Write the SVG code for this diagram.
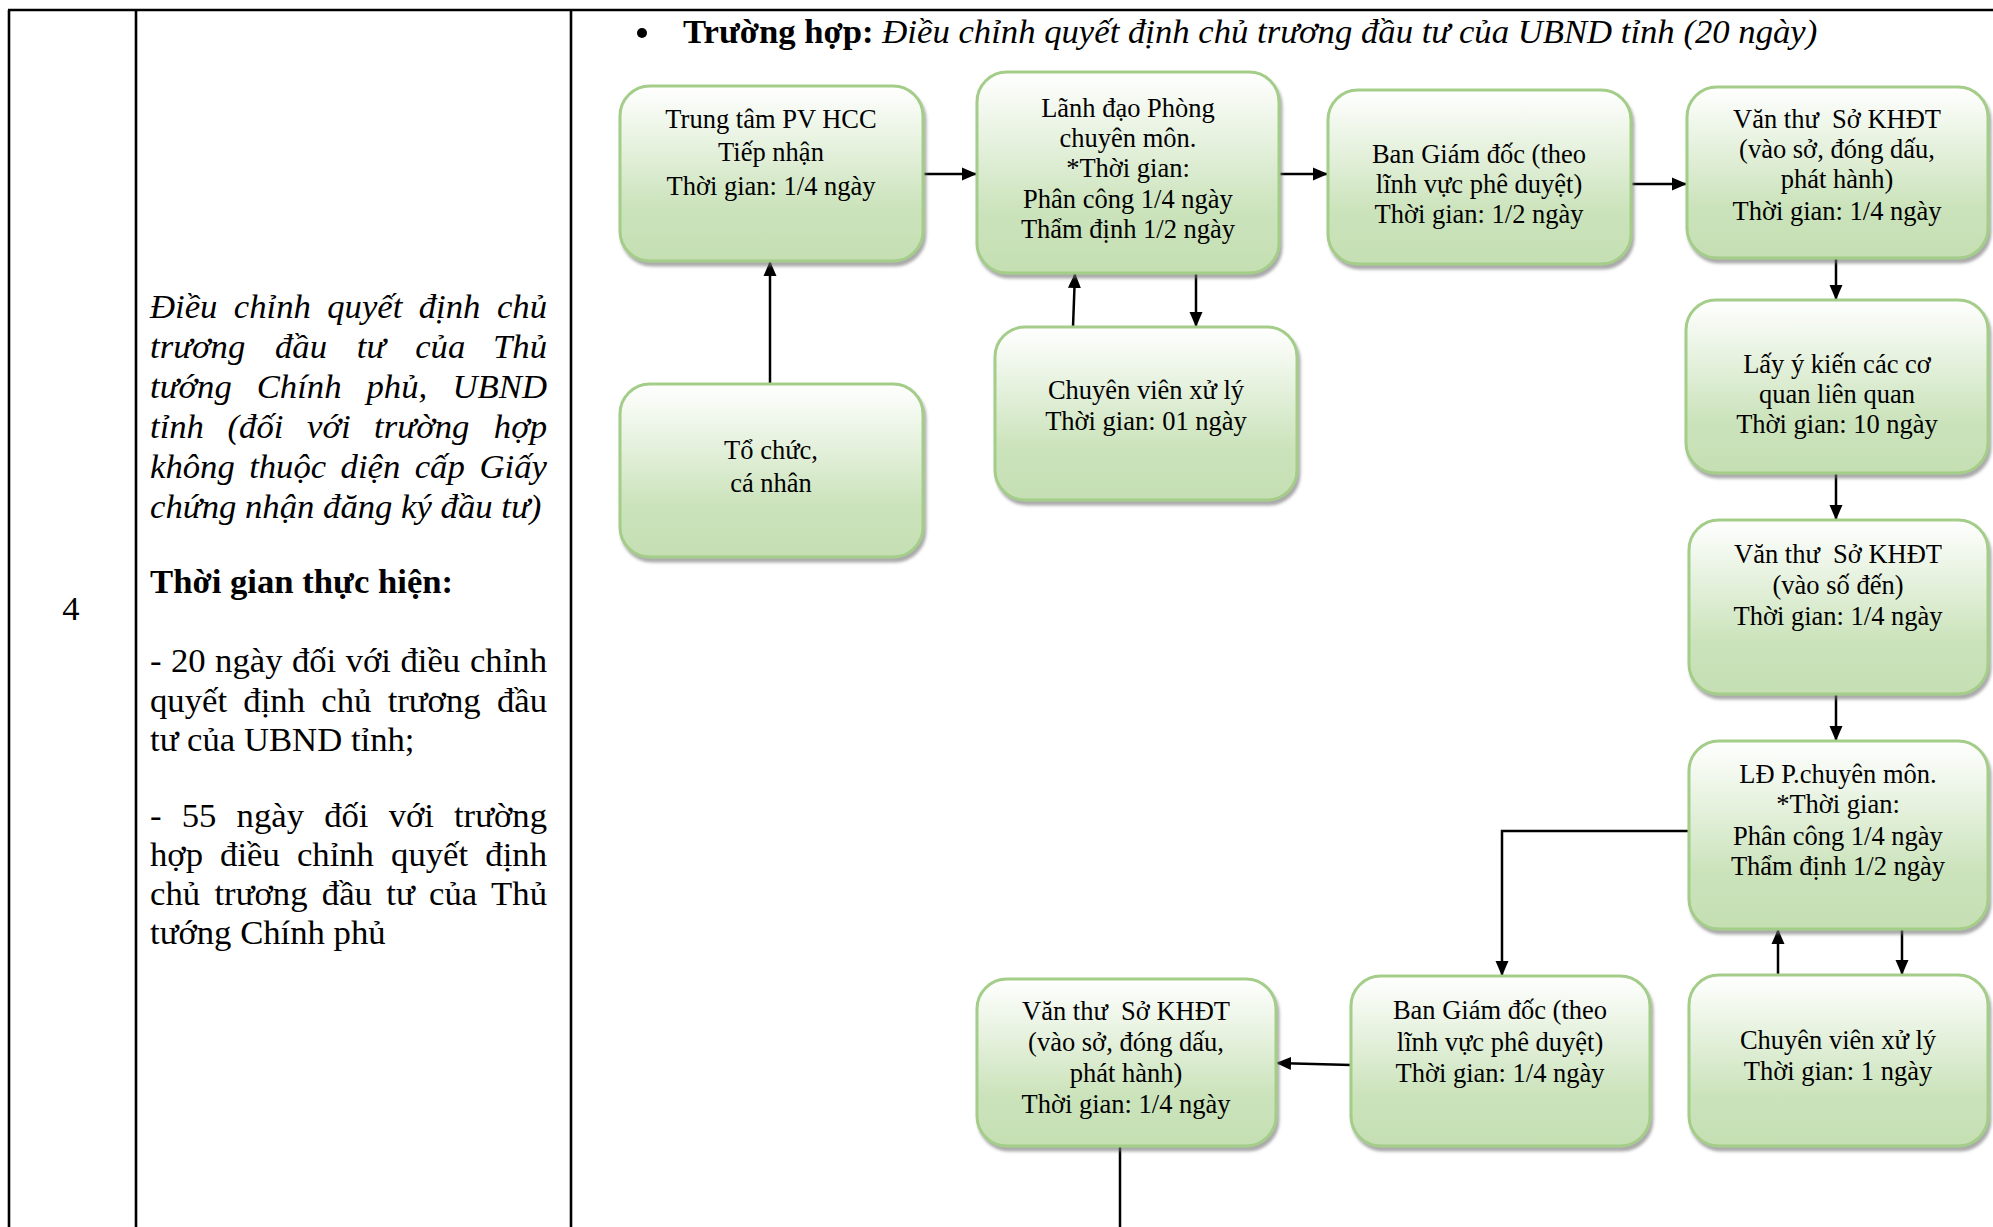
<svg xmlns="http://www.w3.org/2000/svg" width="1993" height="1227" viewBox="0 0 1993 1227">
<style>
.tbl{stroke:#000;stroke-width:2.6;fill:none}
.box{fill:url(#g);stroke:#a3cd88;stroke-width:3;filter:url(#sh)}
.t{font-family:"Liberation Serif","Times New Roman",serif;font-size:26.5px;fill:#000;text-anchor:middle}
.c{stroke:#000;stroke-width:2.5;fill:none}
.ca{stroke:#000;stroke-width:2.5;fill:none;marker-end:url(#ah)}
.lc{font-family:"Liberation Serif","Times New Roman",serif;font-size:34.7px;fill:#000}
.it{font-style:italic}
.b{font-weight:bold}
.e{text-anchor:end}
</style>
<defs>
<linearGradient id="g" x1="0" y1="0" x2="0" y2="1">
<stop offset="0" stop-color="#ffffff"/>
<stop offset="0.7" stop-color="#cbe3bb"/>
<stop offset="1" stop-color="#c5dfb3"/>
</linearGradient>
<filter id="sh" x="-5%" y="-5%" width="115%" height="120%">
<feDropShadow dx="2" dy="4" stdDeviation="1.5" flood-color="#707070" flood-opacity="0.6"/>
</filter>
<marker id="ah" markerUnits="userSpaceOnUse" markerWidth="16" markerHeight="14" refX="15" refY="7" orient="auto">
<path d="M0,0.5 L15,7 L0,13.5 z" fill="#000"/>
</marker>
</defs>
<rect width="1993" height="1227" fill="#fff"/>
<g id="table">
<line class="tbl" x1="8" y1="10" x2="1993" y2="10"/>
<line class="tbl" x1="9" y1="10" x2="9" y2="1227"/>
<line class="tbl" x1="136" y1="10" x2="136" y2="1227"/>
<line class="tbl" x1="571" y1="10" x2="571" y2="1227"/>
</g>
<g id="left-col">
<text class="lc" x="71" y="620" text-anchor="middle">4</text>
<text class="lc it" word-spacing="7.7"><tspan x="150" y="318">Điều chỉnh quyết định</tspan><tspan class="e" x="547" y="318">chủ</tspan></text>
<text class="lc it" word-spacing="21.1"><tspan x="150" y="358">trương đầu tư của</tspan><tspan class="e" x="547" y="358">Thủ</tspan></text>
<text class="lc it" word-spacing="16.3"><tspan x="150" y="398">tướng Chính phủ,</tspan><tspan class="e" x="547" y="398">UBND</tspan></text>
<text class="lc it" word-spacing="14.9"><tspan x="150" y="438">tỉnh (đối với trường</tspan><tspan class="e" x="547" y="438">hợp</tspan></text>
<text class="lc it" word-spacing="5.7"><tspan x="150" y="478">không thuộc diện cấp</tspan><tspan class="e" x="547" y="478">Giấy</tspan></text>
<text class="lc it" x="150" y="518">chứng nhận đăng ký đầu tư)</text>
<text class="lc b" x="150" y="593">Thời gian thực hiện:</text>
<text class="lc" word-spacing="0.75"><tspan x="150" y="672">- 20 ngày đối với điều</tspan><tspan class="e" x="547" y="672">chỉnh</tspan></text>
<text class="lc" word-spacing="7.6"><tspan x="150" y="712">quyết định chủ trương</tspan><tspan class="e" x="547" y="712">đầu</tspan></text>
<text class="lc" x="150" y="751">tư của UBND tỉnh;</text>
<text class="lc" word-spacing="11.5"><tspan x="150" y="827">- 55 ngày đối với</tspan><tspan class="e" x="547" y="827">trường</tspan></text>
<text class="lc" word-spacing="8.4"><tspan x="150" y="866">hợp điều chỉnh quyết</tspan><tspan class="e" x="547" y="866">định</tspan></text>
<text class="lc" word-spacing="5.7"><tspan x="150" y="905">chủ trương đầu tư của</tspan><tspan class="e" x="547" y="905">Thủ</tspan></text>
<text class="lc" x="150" y="944">tướng Chính phủ</text>
</g>
<g id="header">
<circle cx="642" cy="33" r="5"/>
<text class="lc" x="683" y="43"><tspan class="b">Trường hợp:</tspan> <tspan class="it">Điều chỉnh quyết định chủ trương đầu tư của UBND tỉnh (20 ngày)</tspan></text>
</g>
<g id="connectors">
<line class="ca" x1="923" y1="174" x2="977" y2="174"/>
<line class="ca" x1="1279" y1="174" x2="1328" y2="174"/>
<line class="ca" x1="1631" y1="184" x2="1687" y2="184"/>
<line class="ca" x1="1836" y1="258" x2="1836" y2="300"/>
<line class="ca" x1="1836" y1="473" x2="1836" y2="520"/>
<line class="ca" x1="1836" y1="694" x2="1836" y2="741"/>
<line class="ca" x1="1902" y1="929" x2="1902" y2="975"/>
<line class="ca" x1="1778" y1="975" x2="1778" y2="929"/>
<polyline class="ca" points="1689,831 1502,831 1502,976"/>
<line class="ca" x1="1351" y1="1065" x2="1276" y2="1063"/>
<line class="c" x1="1120" y1="1146" x2="1120" y2="1227"/>
<line class="ca" x1="770" y1="384" x2="770" y2="261"/>
<line class="ca" x1="1073" y1="327" x2="1075" y2="273"/>
<line class="ca" x1="1196" y1="273" x2="1196" y2="327"/>
</g>
<g id="nodeA">
<rect class="box" x="620" y="86" width="303" height="175" rx="30"/>
<text class="t"><tspan x="771" y="128">Trung tâm PV HCC</tspan><tspan x="771" y="161">Tiếp nhận</tspan><tspan x="771" y="195">Thời gian: 1/4 ngày</tspan></text>
</g>
<g id="nodeB">
<rect class="box" x="977" y="72" width="302" height="201" rx="30"/>
<text class="t"><tspan x="1128" y="117">Lãnh đạo Phòng</tspan><tspan x="1128" y="147">chuyên môn.</tspan><tspan x="1128" y="177">*Thời gian:</tspan><tspan x="1128" y="208">Phân công 1/4 ngày</tspan><tspan x="1128" y="238">Thẩm định 1/2 ngày</tspan></text>
</g>
<g id="nodeC">
<rect class="box" x="1328" y="90" width="303" height="174" rx="30"/>
<text class="t"><tspan x="1479" y="163">Ban Giám đốc (theo</tspan><tspan x="1479" y="193">lĩnh vực phê duyệt)</tspan><tspan x="1479" y="223">Thời gian: 1/2 ngày</tspan></text>
</g>
<g id="nodeD">
<rect class="box" x="1687" y="87" width="301" height="171" rx="30"/>
<text class="t"><tspan x="1837" y="128">Văn thư &#160;Sở KHĐT</tspan><tspan x="1837" y="158">(vào sở, đóng dấu,</tspan><tspan x="1837" y="188">phát hành)</tspan><tspan x="1837" y="220">Thời gian: 1/4 ngày</tspan></text>
</g>
<g id="nodeE">
<rect class="box" x="1686" y="300" width="302" height="173" rx="30"/>
<text class="t"><tspan x="1837" y="373">Lấy ý kiến các cơ</tspan><tspan x="1837" y="403">quan liên quan</tspan><tspan x="1837" y="433">Thời gian: 10 ngày</tspan></text>
</g>
<g id="nodeF">
<rect class="box" x="1689" y="520" width="299" height="174" rx="30"/>
<text class="t"><tspan x="1838" y="563">Văn thư &#160;Sở KHĐT</tspan><tspan x="1838" y="594">(vào số đến)</tspan><tspan x="1838" y="625">Thời gian: 1/4 ngày</tspan></text>
</g>
<g id="nodeG">
<rect class="box" x="1689" y="741" width="299" height="188" rx="30"/>
<text class="t"><tspan x="1838" y="783">LĐ P.chuyên môn.</tspan><tspan x="1838" y="813">*Thời gian:</tspan><tspan x="1838" y="845">Phân công 1/4 ngày</tspan><tspan x="1838" y="875">Thẩm định 1/2 ngày</tspan></text>
</g>
<g id="nodeH">
<rect class="box" x="1689" y="975" width="299" height="171" rx="30"/>
<text class="t"><tspan x="1838" y="1049">Chuyên viên xử lý</tspan><tspan x="1838" y="1080">Thời gian: 1 ngày</tspan></text>
</g>
<g id="nodeI">
<rect class="box" x="1351" y="976" width="299" height="170" rx="30"/>
<text class="t"><tspan x="1500" y="1019">Ban Giám đốc (theo</tspan><tspan x="1500" y="1051">lĩnh vực phê duyệt)</tspan><tspan x="1500" y="1082">Thời gian: 1/4 ngày</tspan></text>
</g>
<g id="nodeJ">
<rect class="box" x="977" y="979" width="299" height="167" rx="30"/>
<text class="t"><tspan x="1126" y="1020">Văn thư &#160;Sở KHĐT</tspan><tspan x="1126" y="1051">(vào sở, đóng dấu,</tspan><tspan x="1126" y="1082">phát hành)</tspan><tspan x="1126" y="1113">Thời gian: 1/4 ngày</tspan></text>
</g>
<g id="nodeK">
<rect class="box" x="620" y="384" width="303" height="173" rx="30"/>
<text class="t"><tspan x="771" y="459">Tổ chức,</tspan><tspan x="771" y="492">cá nhân</tspan></text>
</g>
<g id="nodeL">
<rect class="box" x="995" y="327" width="302" height="173" rx="30"/>
<text class="t"><tspan x="1146" y="399">Chuyên viên xử lý</tspan><tspan x="1146" y="430">Thời gian: 01 ngày</tspan></text>
</g>
</svg>
